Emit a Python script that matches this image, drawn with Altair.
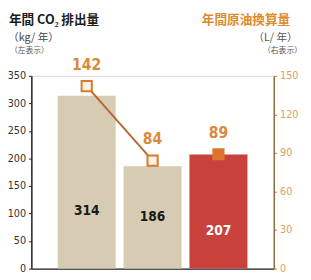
import altair as alt
import pandas as pd

categories = ["A", "B", "C"]
co2 = [314, 186, 207]
oil = [142, 84, 89]
bar_colors = ["#d6cbb3", "#d6cbb3", "#c8413a"]
label_colors = ["#1a1a1a", "#1a1a1a", "#ffffff"]
label_level = [104, 94, 69]
marker_fill = ["#fcf1e2", "#fcf1e2", "#e0702f"]
connected = [True, True, False]

df = pd.DataFrame({
    "cat": categories, "co2": co2, "oil": oil, "bc": bar_colors,
    "lc": label_colors, "lv": label_level, "mf": marker_fill, "conn": connected,
})

FONT = "Noto Sans CJK JP"
NUM_FONT = "DejaVu Sans Condensed, Liberation Sans, sans-serif"

x = alt.X("cat:N", sort=categories, title=None,
          scale=alt.Scale(paddingInner=0.12, paddingOuter=0.4),
          axis=alt.Axis(labels=False, ticks=False, domainColor="#222", domainWidth=1.5, grid=False))

left_axis = alt.Axis(values=[0, 50, 100, 150, 200, 250, 300, 350], title=None, grid=False,
                     domainColor="#222", domainWidth=1.5, tickColor="#222", tickSize=3,
                     labelColor="#333", labelFont=NUM_FONT, labelFontSize=11, labelPadding=3)
ly = lambda f: alt.Y(f, scale=alt.Scale(domain=[0, 350]), axis=left_axis)

right_axis = alt.Axis(orient="right", values=[0, 30, 60, 90, 120, 150], title=None, grid=False,
                      domainColor="#8a6a40", domainWidth=1.5, tickColor="#b08050", tickSize=3,
                      labelColor="#d9a066", labelFont=NUM_FONT, labelFontSize=11, labelPadding=3)
ry = lambda f: alt.Y(f, scale=alt.Scale(domain=[0, 150]), axis=right_axis)

base = alt.Chart(df)

bars = base.mark_bar().encode(x=x, y=ly("co2:Q"), color=alt.Color("bc:N", scale=None))
bar_text = base.mark_text(font=NUM_FONT, fontSize=14, fontWeight="bold", baseline="middle").encode(
    x=x, y=ly("lv:Q"), text="co2:Q", color=alt.Color("lc:N", scale=None))
left = alt.layer(bars, bar_text)

line = base.transform_filter("datum.conn").mark_line(color="#b8682c", strokeWidth=2).encode(
    x=x, y=ry("oil:Q"))
points = base.mark_point(shape="square", size=110, strokeWidth=2, stroke="#d9782a", opacity=1,
                         filled=True).encode(x=x, y=ry("oil:Q"), fill=alt.Fill("mf:N", scale=None))
oil_text = base.mark_text(font=NUM_FONT, fontSize=16, fontWeight="bold", color="#d98a3a",
                          baseline="middle", dy=-22).encode(x=x, y=ry("oil:Q"), text="oil:Q")
right = alt.layer(line, points, oil_text)

title_df = pd.DataFrame({"t": [0]})
def label(text, xv, yv, size, color, weight="normal", align="left"):
    return alt.Chart(title_df).mark_text(text=text, font=FONT, fontSize=size, fontWeight=weight,
                                         color=color, align=align, baseline="middle").encode(
        x=alt.value(xv), y=alt.value(yv))

titles = alt.layer(
    label("年間 CO₂ 排出量", -23, -57, 13, "#1a1a1a", "bold"),
    label("（kg/ 年）", -24, -39, 11, "#444444"),
    label("（左表示）", -22, -25, 8, "#555555"),
    label("年間原油換算量", 175, -57, 13, "#e08a2e", "bold"),
    label("（L/ 年）", 228, -39, 11, "#555555"),
    label("（右表示）", 238, -25, 8, "#555555"),
)

chart = alt.layer(left, right, titles).resolve_scale(y="independent").properties(
    width=249, height=198, autosize=alt.AutoSizeParams(type="none"),
    padding={"left": 24, "top": 66, "right": 30, "bottom": 8},
).configure_view(stroke=None).configure(background="white")

chart.save("out.html", embed_options={"renderer": "svg", "actions": False})
